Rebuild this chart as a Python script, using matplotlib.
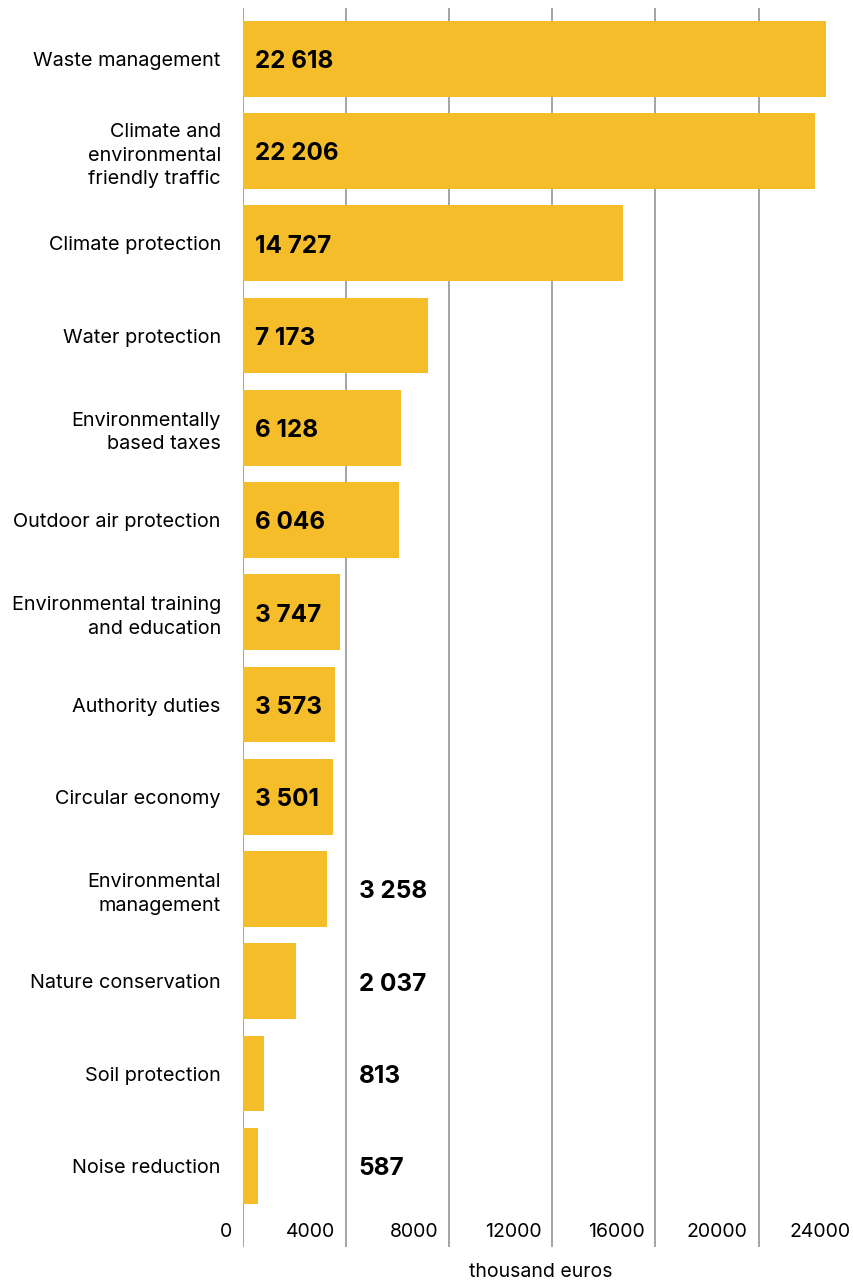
import matplotlib.pyplot as plt

plt.rcParams['font.family'] = ['Inter', 'DejaVu Sans']

categories = [
    "Waste management",
    "Climate and\nenvironmental\nfriendly traffic",
    "Climate protection",
    "Water protection",
    "Environmentally\nbased taxes",
    "Outdoor air protection",
    "Environmental training\nand education",
    "Authority duties",
    "Circular economy",
    "Environmental\nmanagement",
    "Nature conservation",
    "Soil protection",
    "Noise reduction",
]
values = [22618, 22206, 14727, 7173, 6128, 6046, 3747, 3573, 3501, 3258, 2037, 813, 587]
ticks = [0, 4000, 8000, 12000, 16000, 20000, 24000]

bar_color = '#F5BD29'
grid_color = '#8c8c8c'
text_color = '#000000'

fig = plt.figure(figsize=(8.54, 12.84), dpi=100)
ax = fig.add_axes([243 / 854, 37 / 1284, 611 / 854, 1239 / 1284])

y = list(range(len(values)))
ax.barh(y, values, height=0.82, color=bar_color, zorder=2)

# vertical guides, the last tick falls outside the plot area
for t in ticks:
    ax.axvline(t, color=grid_color, lw=1.1, zorder=1)

ax.set_xlim(0, 23700)
ax.set_ylim(12.88, -0.55)

ax.set_yticks(y)
ax.set_yticklabels(categories, fontsize=14.3, color=text_color, linespacing=1.4)
ax.tick_params(axis='y', length=0, pad=16)
ax.set_xticks([])
for s in ax.spines.values():
    s.set_visible(False)

# x tick labels sit inside the plot, just left of each guide
for t in ticks:
    ax.annotate(str(t), xy=(t, 0), xycoords=('data', 'axes fraction'),
                xytext=(-8, 11), textcoords='offset points',
                ha='right', va='center', fontsize=14, color=text_color,
                annotation_clip=False)

# value labels: inside long bars, beside the 4000 line for short ones
for i, v in enumerate(values):
    label = f"{v:,}".replace(",", " ")
    anchor = 0 if v >= 3500 else 4000
    ax.annotate(label, xy=(anchor, i), xytext=(9, -2), textcoords='offset points',
                ha='left', va='center', fontsize=17.5, fontweight='bold',
                color=text_color, zorder=3)

fig.text(541 / 854, 1 - 1272 / 1284, "thousand euros", ha='center', va='center',
         fontsize=14, color=text_color)

fig.savefig('out.png', dpi=100)
